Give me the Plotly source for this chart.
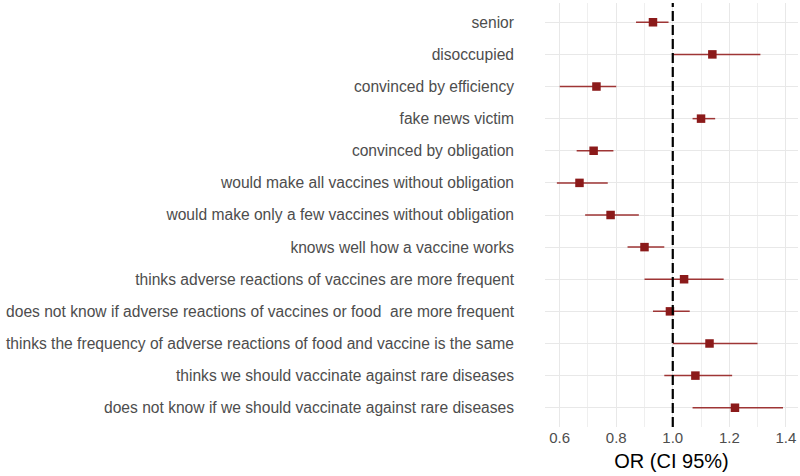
import plotly.graph_objects as go

labels = [
    "senior",
    "disoccupied",
    "convinced by efficiency",
    "fake news victim",
    "convinced by obligation",
    "would make all vaccines without obligation",
    "would make only a few vaccines without obligation",
    "knows well how a vaccine works",
    "thinks adverse reactions of vaccines are more frequent",
    "does not know if adverse reactions of vaccines or food  are more frequent",
    "thinks the frequency of adverse reactions of food and vaccine is the same",
    "thinks we should vaccinate against rare diseases",
    "does not know if we should vaccinate against rare diseases",
]
odds_ratio = [0.93, 1.14, 0.73, 1.10, 0.72, 0.67, 0.78, 0.90, 1.04, 0.99, 1.13, 1.08, 1.22]
ci_low = [0.87, 1.00, 0.60, 1.07, 0.66, 0.59, 0.69, 0.84, 0.90, 0.93, 1.00, 0.97, 1.07]
ci_high = [0.985, 1.31, 0.80, 1.15, 0.79, 0.77, 0.88, 0.97, 1.18, 1.06, 1.30, 1.21, 1.39]
x_ticks = [0.6, 0.8, 1.0, 1.2, 1.4]
x_ticktext = ["0.6", "0.8", "1.0", "1.2", "1.4"]

err_plus = [h - m for h, m in zip(ci_high, odds_ratio)]
err_minus = [m - l for m, l in zip(odds_ratio, ci_low)]

fig = go.Figure()
fig.add_trace(go.Scatter(
    x=odds_ratio, y=labels, mode="markers",
    marker=dict(symbol="square", size=8.5, color="#8B1A1A"),
    error_x=dict(type="data", symmetric=False, array=err_plus, arrayminus=err_minus,
                 width=0, thickness=1.5, color="#9E3535"),
    showlegend=False,
))
fig.add_vline(x=1.0, line=dict(color="black", width=2.2, dash="10px,4px"), layer="above")

fig.update_layout(
    width=800, height=476,
    margin=dict(l=545, r=2, t=3, b=49),
    plot_bgcolor="white", paper_bgcolor="white",
    font=dict(family="Liberation Sans, Arial, sans-serif", color="#4d4d4d", size=13),
    xaxis=dict(
        range=[0.548, 1.443], tickvals=x_ticks, ticktext=x_ticktext,
        showgrid=True, gridcolor="#e8e8e8", gridwidth=1.1, zeroline=False,
        minor=dict(tickvals=[0.7, 0.9, 1.1, 1.3], showgrid=True, gridcolor="#efefef", gridwidth=0.6),
        tickfont=dict(size=15, color="#4d4d4d"),
        title=dict(text="OR (CI 95%)", font=dict(size=20, color="black"), standoff=8),
        ticks="", showline=False, automargin=False,
    ),
    yaxis=dict(
        categoryorder="array", categoryarray=labels,
        range=[len(labels) - 0.4, -0.6],
        showgrid=True, gridcolor="#e8e8e8", gridwidth=1.1, zeroline=False,
        tickfont=dict(size=15.6, color="#4d4d4d"), ticks="", showline=False,
        ticklabelstandoff=30, automargin=False,
    ),
)

fig.write_html("out.html", config={"displayModeBar": False},
               post_script="document.body.style.margin='0px';")
